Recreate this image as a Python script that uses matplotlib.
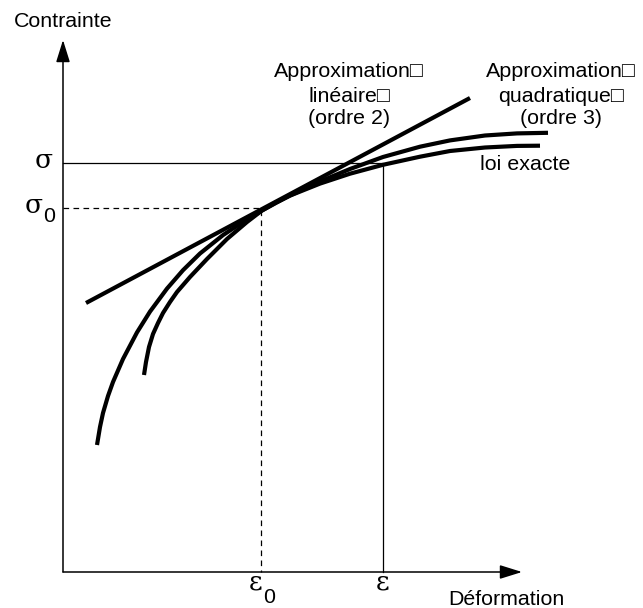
import matplotlib.pyplot as plt

# diagram units: origin at the corner of the two axes
# quadratic approximation (outer on the left, upper on the right)
quad_x = [34, 37, 40, 45, 50, 60, 74, 87, 104, 120, 137, 160, 180, 199, 213, 227,
          257, 287, 320, 357, 387, 422, 454, 485]
quad_y = [127, 145, 159, 176, 190, 213, 239.6, 260.4, 283.4, 301.8, 318.5, 336.9, 350.1, 361.5, 369.1, 376.5,
          390.5, 403, 415, 425.3, 431.6, 436.5, 438.6, 439.2]

# exact law (inner on the left, lower on the right)
exact_x = [81, 83, 86, 90, 95, 100, 107, 114, 127, 144, 164, 184, 199, 213, 227,
           257, 287, 320, 357, 387, 422, 454, 477]
exact_y = [197, 210, 225, 238, 249, 259, 270, 280, 295, 313, 333, 350, 361.5, 369.5, 376.4,
           388.4, 398.3, 407.2, 415.3, 421, 424.5, 426.1, 426.3]

# tangent (linear approximation)
lin_x = [23, 407]
lin_y = [269, 474]

eps0, sig0 = 198, 364
eps, sig = 320, 409
x_end, y_end = 459, 532

label_lin = ['Approximation\u25a1', 'lin\u00e9aire\u25a1', '(ordre 2)']
label_quad = ['Approximation\u25a1', 'quadratique\u25a1', '(ordre 3)']

sans = ['Liberation Sans', 'DejaVu Sans']
serif = ['DejaVu Serif']

fig = plt.figure(figsize=(6.43, 6.08), dpi=100)
ax = fig.add_axes([0, 0, 1, 1])
ax.set_xlim(-63, 580)
ax.set_ylim(-36, 572)
ax.axis('off')

# axes with arrows
arrow = dict(arrowstyle='-|>,head_length=0.8,head_width=0.25', mutation_scale=17,
             lw=1.1, color='black', shrinkA=0, shrinkB=0)
ax.annotate('', xy=(x_end, 0), xytext=(0, 0), arrowprops=arrow)
ax.annotate('', xy=(0, y_end), xytext=(0, 0), arrowprops=arrow)

# sigma / epsilon guides
ax.plot([0, eps, eps], [sig, sig, 0], color='black', lw=0.9)
ax.plot([0, eps0, eps0], [sig0, sig0, 0], color='black', lw=0.9, ls=(0, (4.5, 3.5)))

# curves
ax.plot(lin_x, lin_y, color='black', lw=3, solid_capstyle='butt')
ax.plot(quad_x, quad_y, color='black', lw=3, solid_capstyle='butt', solid_joinstyle='round')
ax.plot(exact_x, exact_y, color='black', lw=3, solid_capstyle='butt', solid_joinstyle='round')

# labels
fs = 15.4
ax.text(-49, 545, 'Contrainte', family=sans, fontsize=fs, va='baseline', ha='left')
ax.text(385, -33, 'D\u00e9formation', family=sans, fontsize=fs, va='baseline', ha='left')
ax.text(417, 402, 'loi exacte', family=sans, fontsize=fs, va='baseline', ha='left')

for i, (a, b) in enumerate(zip(label_lin, label_quad)):
    yb = [495, 470, 448][i]
    ax.text(286, yb, a, family=sans, fontsize=fs, va='baseline', ha='center')
    ax.text(498, yb, b, family=sans, fontsize=fs, va='baseline', ha='center')

ax.text(-10, 404, '\u03c3', family=serif, fontsize=19, va='baseline', ha='right')
ax.text(-20, 359, '\u03c3', family=serif, fontsize=19, va='baseline', ha='right')
ax.text(-20, 350, '0', family=sans, fontsize=fs, va='baseline', ha='left')

ax.text(eps0 - 5, -18, '\u03b5', family=serif, fontsize=19, va='baseline', ha='center')
ax.text(eps0 + 2, -31, '0', family=sans, fontsize=fs, va='baseline', ha='left')
ax.text(eps, -18, '\u03b5', family=serif, fontsize=19, va='baseline', ha='center')

fig.savefig('out.png', dpi=100)
